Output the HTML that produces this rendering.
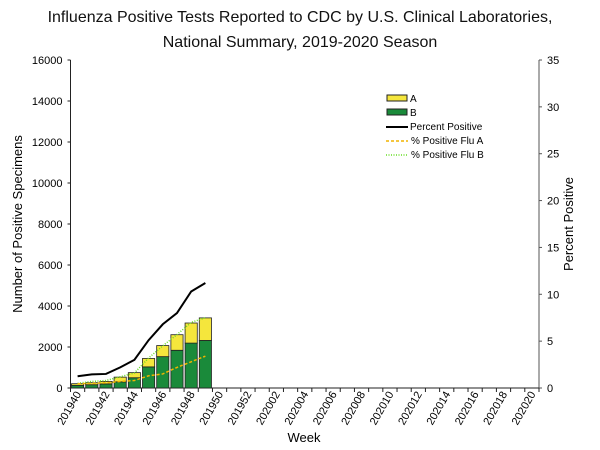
<!DOCTYPE html>
<html><head><meta charset="utf-8"><style>
body{margin:0;background:#fff}
svg{display:block;font-family:"Liberation Sans",Arial,sans-serif}
</style></head><body>
<svg id="chart" width="600" height="450">
<text x="300" y="22" text-anchor="middle" font-size="16" fill="#111">Influenza Positive Tests Reported to CDC by U.S. Clinical Laboratories,</text>
<text x="300" y="47" text-anchor="middle" font-size="16" fill="#111">National Summary, 2019-2020 Season</text>
<text transform="translate(22,224) rotate(-90)" text-anchor="middle" font-size="13">Number of Positive Specimens</text>
<text transform="translate(573,224) rotate(-90)" text-anchor="middle" font-size="13">Percent Positive</text>
<text x="304" y="442" text-anchor="middle" font-size="13">Week</text>
<g id="plot"></g>
<g font-size="10">
<rect x="387" y="95" width="20" height="6" fill="#f5e63c" stroke="#222"/>
<text x="410" y="102">A</text>
<rect x="387" y="109" width="20" height="6" fill="#1a8a3a" stroke="#222"/>
<text x="410" y="116">B</text>
<line x1="386" y1="127" x2="408" y2="127" stroke="#000" stroke-width="2"/>
<text x="410" y="130">Percent Positive</text>
<line x1="386" y1="141" x2="408" y2="141" stroke="#f0b400" stroke-width="1.5" stroke-dasharray="3,2"/>
<text x="411" y="144">% Positive Flu A</text>
<line x1="386" y1="155" x2="408" y2="155" stroke="#66dd22" stroke-width="1.5" stroke-dasharray="1,1.5"/>
<text x="411" y="158">% Positive Flu B</text>
</g>
</svg>
<script>
const weeks = ["201940","201941","201942","201943","201944","201945","201946","201947","201948","201949","201950","201951","201952","202001","202002","202003","202004","202005","202006","202007","202008","202009","202010","202011","202012","202013","202014","202015","202016","202017","202018","202019","202020"];
const fluA = [80,100,120,230,250,410,540,760,980,1100];
const fluB = [130,160,200,300,500,1030,1530,1840,2190,2320];
const pctPositive = [1.25,1.45,1.5,2.2,3.0,5.1,6.8,8.0,10.3,11.2];
const pctFluA = [0.45,0.5,0.55,0.7,0.8,1.3,1.5,2.2,2.8,3.4];
const pctFluB = [0.5,0.7,0.8,1.2,1.6,3.2,4.5,5.7,7.0,7.5];
const leftTicks = [0,2000,4000,6000,8000,10000,12000,14000,16000];
const rightTicks = [0,5,10,15,20,25,30,35];

const NS="http://www.w3.org/2000/svg";
const L=70.5,R=539,T=60,B=388;
const step=(R-L)/weeks.length;
const xc=i=>L+step*(i+0.5);
const yL=v=>B-(v/16000)*(B-T);
const yR=v=>B-(v/35)*(B-T);
const g=document.getElementById('plot');
function mk(tag,attrs){const e=document.createElementNS(NS,tag);for(const k in attrs)e.setAttribute(k,attrs[k]);g.appendChild(e);return e;}

// axes
let e=mk('line',{x1:L,y1:T,x2:L,y2:B,stroke:'#222'});


e=mk('line',{x1:R,y1:T,x2:R,y2:B,stroke:'#555'});


e=mk('line',{x1:L,y1:B,x2:R,y2:B,stroke:'#222'});


leftTicks.forEach(v=>{
  mk('line',{x1:L-3,y1:yL(v),x2:L,y2:yL(v),stroke:'#222'});
  const t=mk('text',{x:L-8,y:yL(v)+4,'text-anchor':'end','font-size':11});
  t.textContent=v;
  
  
});
rightTicks.forEach(v=>{
  mk('line',{x1:R,y1:yR(v),x2:R+3,y2:yR(v),stroke:'#555'});
  const t=mk('text',{x:R+8,y:yR(v)+4,'font-size':11});
  t.textContent=v;
  
  
});
for(let i=0;i<=weeks.length;i++) mk('line',{x1:L+step*i,y1:B,x2:L+step*i,y2:B+4,stroke:'#222'});
weeks.forEach((w,i)=>{
  if(i%2) return;
  const x=xc(i)+4,y=B+6;
  const t=mk('text',{x:x,y:y,'text-anchor':'end','font-size':11,transform:`rotate(-60 ${x} ${y})`});
  t.textContent=w;
  
  
});
// bars
fluB.forEach((b,i)=>{
  const a=fluA[i],w=step-2,x=xc(i)-w/2;
  let r=mk('rect',{x:x,y:yL(b),width:w,height:B-yL(b),fill:'#1a8a3a',stroke:'#222','stroke-width':0.8});
  
  
  r=mk('rect',{x:x,y:yL(a+b),width:w,height:yL(b)-yL(a+b),fill:'#f5e63c',stroke:'#222','stroke-width':0.8});
  
  
});
function line(arr,attrs,name){
  const p=mk('polyline',Object.assign({points:arr.map((v,i)=>xc(i)+','+yR(v)).join(' '),fill:'none'},attrs));
  
  
}
line(pctFluB,{stroke:'#66dd22','stroke-width':1.5,'stroke-dasharray':'1,1.5'},'line-pct-flu-b');
line(pctFluA,{stroke:'#f0b400','stroke-width':1.5,'stroke-dasharray':'3,2'},'line-pct-flu-a');
line(pctPositive,{stroke:'#000','stroke-width':2},'line-percent-positive');
</script>
</body></html>
